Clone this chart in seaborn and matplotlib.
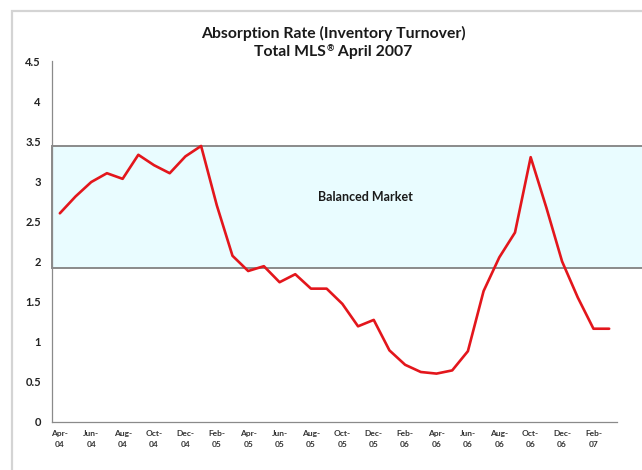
import matplotlib
matplotlib.use("Agg")
import matplotlib.pyplot as plt
from matplotlib.patches import Rectangle
import seaborn as sns
import pandas as pd

# Monthly absorption rate, Apr-04 .. Mar-07
months = ["Apr-04", "May-04", "Jun-04", "Jul-04", "Aug-04", "Sep-04", "Oct-04", "Nov-04",
          "Dec-04", "Jan-05", "Feb-05", "Mar-05", "Apr-05", "May-05", "Jun-05", "Jul-05",
          "Aug-05", "Sep-05", "Oct-05", "Nov-05", "Dec-05", "Jan-06", "Feb-06", "Mar-06",
          "Apr-06", "May-06", "Jun-06", "Jul-06", "Aug-06", "Sep-06", "Oct-06", "Nov-06",
          "Dec-06", "Jan-07", "Feb-07", "Mar-07"]
rate = [2.60, 2.81, 2.99, 3.10, 3.03, 3.33, 3.20, 3.10,
        3.31, 3.44, 2.70, 2.07, 1.88, 1.94, 1.74, 1.84,
        1.66, 1.66, 1.47, 1.19, 1.27, 0.89, 0.71, 0.62,
        0.60, 0.64, 0.88, 1.63, 2.05, 2.36, 3.30, 2.67,
        2.00, 1.55, 1.16, 1.16]

# Balanced market range
balanced_low = 1.92
balanced_high = 3.44

y_ticks = [0, 0.5, 1, 1.5, 2, 2.5, 3, 3.5, 4, 4.5]
y_tick_labels = ["0", "0.5", "1", "1.5", "2", "2.5", "3", "3.5", "4", "4.5"]

title_line1 = "Absorption Rate (Inventory Turnover)"
title_line2 = ["Total MLS", "\u00ae", " April 2007"]

sns.set_style("white")
plt.rcParams["font.family"] = ["Lato", "DejaVu Sans"]

df = pd.DataFrame({"idx": range(len(months)), "rate": rate})

fig = plt.figure(figsize=(6.42, 4.70), dpi=100)
ax = fig.add_axes([52 / 642, 1 - 421.7 / 470, 565 / 642, 360.7 / 470])

# outer chart frame (top and left edges visible)
fig.patches.append(Rectangle((12 / 642, -0.5), 2.0, 0.5 + (470 - 11) / 470,
                             transform=fig.transFigure, fill=False,
                             edgecolor="#d4d4d4", linewidth=1.6, zorder=0))

# balanced market band
ax.add_patch(Rectangle((-0.5, balanced_low), 40, balanced_high - balanced_low,
                       facecolor="#e9fcff", edgecolor="#8a8a8a", linewidth=1.4,
                       clip_on=False, zorder=1))
ax.text(19.5, 2.80, "Balanced Market", ha="center", va="center",
        fontsize=9, fontweight="bold", color="#1a1a1a", zorder=3)

sns.lineplot(data=df, x="idx", y="rate", ax=ax, color="#e3161c",
             linewidth=1.9, zorder=4)

ax.set_xlim(-0.5, len(months) - 0.5)
ax.set_ylim(0, 4.5)
ax.set_xlabel("")
ax.set_ylabel("")

# y axis
ax.set_yticks(y_ticks)
ax.set_yticklabels(y_tick_labels, fontsize=8, fontweight="bold", color="#222222")
ax.tick_params(axis="y", length=4, width=0.8, color="#8a8a8a", pad=4, direction="out")

# x axis: ticks at boundaries every two months, labels on every other month
bounds = [i - 0.5 for i in range(0, len(months) + 1, 2)]
centers = list(range(0, len(months), 2))
labels = [m.replace("-", "-\n") for m in months[::2]]
ax.set_xticks(bounds)
ax.set_xticklabels([""] * len(bounds))
ax.set_xticks(centers, minor=True)
ax.set_xticklabels(labels, minor=True, fontsize=6, fontweight="bold",
                   color="#333333", linespacing=1.6)
ax.tick_params(axis="x", which="major", length=4, width=0.8, color="#8a8a8a",
               direction="out")
ax.tick_params(axis="x", which="minor", length=0, pad=6)

for side in ["top", "right"]:
    ax.spines[side].set_visible(False)
for side in ["left", "bottom"]:
    ax.spines[side].set_color("#8a8a8a")
    ax.spines[side].set_linewidth(0.9)
ax.grid(False)
ax.set_facecolor("none")

# title
title_size = 11.3
fig.text(333 / 642, 1 - 33 / 470, title_line1, ha="center", va="center",
         fontsize=title_size, fontweight="bold", color="#1a1a1a")

# second title line with a raised, smaller registered sign
renderer = fig.canvas.get_renderer()
sizes = [title_size, 6.5, title_size]
pieces = []
for txt, sz in zip(title_line2, sizes):
    t = fig.text(0, 0, txt, fontsize=sz, fontweight="bold", color="#1a1a1a",
                 ha="left", va="baseline")
    pieces.append(t)
widths = [p.get_window_extent(renderer).width for p in pieces]
total = sum(widths)
x_px = 333 - total / 2
base_px = 470 - 56
raise_px = [0, 5, 0]
for p, w, r in zip(pieces, widths, raise_px):
    p.set_position((x_px / 642, (base_px + r) / 470))
    x_px += w

fig.savefig("out.png", dpi=100)
